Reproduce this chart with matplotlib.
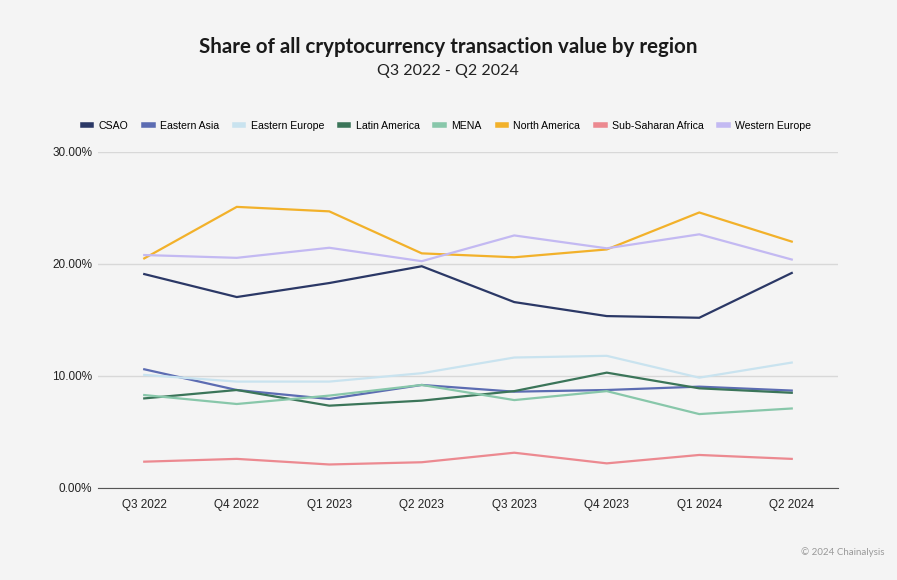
import matplotlib
matplotlib.use("Agg")
import matplotlib.pyplot as plt
from matplotlib.lines import Line2D

quarters = ["Q3 2022", "Q4 2022", "Q1 2023", "Q2 2023", "Q3 2023", "Q4 2023", "Q1 2024", "Q2 2024"]
csao = [19.1, 17.05, 18.3, 19.8, 16.6, 15.35, 15.2, 19.2]
eastern_asia = [10.6, 8.75, 7.95, 9.2, 8.6, 8.75, 9.05, 8.7]
eastern_europe = [10.1, 9.5, 9.5, 10.25, 11.65, 11.8, 9.85, 11.2]
latin_america = [8.0, 8.75, 7.35, 7.8, 8.65, 10.3, 8.9, 8.5]
mena = [8.3, 7.5, 8.25, 9.2, 7.85, 8.65, 6.6, 7.1]
north_america = [20.5, 25.1, 24.7, 20.95, 20.6, 21.3, 24.6, 22.0]
sub_saharan_africa = [2.35, 2.6, 2.1, 2.3, 3.15, 2.2, 2.95, 2.6]
western_europe = [20.8, 20.55, 21.45, 20.25, 22.55, 21.4, 22.65, 20.4]

series = [
    ("CSAO", csao, "#2b3866"),
    ("Eastern Asia", eastern_asia, "#5c6cb2"),
    ("Eastern Europe", eastern_europe, "#c9e3ef"),
    ("Latin America", latin_america, "#3b7559"),
    ("MENA", mena, "#88c7aa"),
    ("North America", north_america, "#f2b12a"),
    ("Sub-Saharan Africa", sub_saharan_africa, "#ec8990"),
    ("Western Europe", western_europe, "#c3b9f2"),
]

bg = "#f4f4f4"
fig = plt.figure(figsize=(8.97, 5.8), dpi=100, facecolor=bg)
ax = fig.add_axes([98/897, 1-488/580, (838-98)/897, (488-152)/580], facecolor=bg)

x = list(range(len(quarters)))
for name, vals, col in series:
    ax.plot(x, vals, color=col, lw=1.6, label=name, solid_joinstyle="miter")

ax.set_xlim(-0.5, 7.5)
ax.set_ylim(0, 30)
ax.set_yticks([0, 10, 20, 30])
ax.set_yticklabels([f"{v:.2f}%" for v in [0, 10, 20, 30]])
ax.set_xticks(x)
ax.set_xticklabels(quarters)
ax.grid(axis="y", color="#d8d8d8", lw=1)
ax.set_axisbelow(True)
for s in ["top", "right", "left"]:
    ax.spines[s].set_visible(False)
ax.spines["bottom"].set_color("#555555")
ax.tick_params(axis="both", length=0, labelsize=8.5, labelcolor="#222222")
ax.tick_params(axis="x", pad=8)
ax.tick_params(axis="y", pad=4)
for lbl in ax.get_xticklabels() + ax.get_yticklabels():
    lbl.set_family("Liberation Sans")

handles = [Line2D([0], [0], color=col, lw=4) for _, _, col in series]
leg = fig.legend(handles, [s[0] for s in series], loc="center", bbox_to_anchor=(447/897, 1-126/580),
                 ncol=8, frameon=False, handlelength=0.8, handletextpad=0.7, columnspacing=1.5,
                 prop={"family": "Liberation Sans", "size": 7.6})

fig.text(448/897, 1-47/580, "Share of all cryptocurrency transaction value by region", ha="center", va="center",
         fontsize=14.8, fontweight="bold", family="Lato", color="#1a1a1a")
fig.text(448/897, 1-71/580, "Q3 2022 - Q2 2024", ha="center", va="center",
         fontsize=11.5, family="Lato", color="#222222")
fig.text(884/897, 1-552/580, "© 2024 Chainalysis", ha="right", va="center",
         fontsize=7, family="Lato", color="#999999")

fig.savefig("out.png", dpi=100, facecolor=bg)
